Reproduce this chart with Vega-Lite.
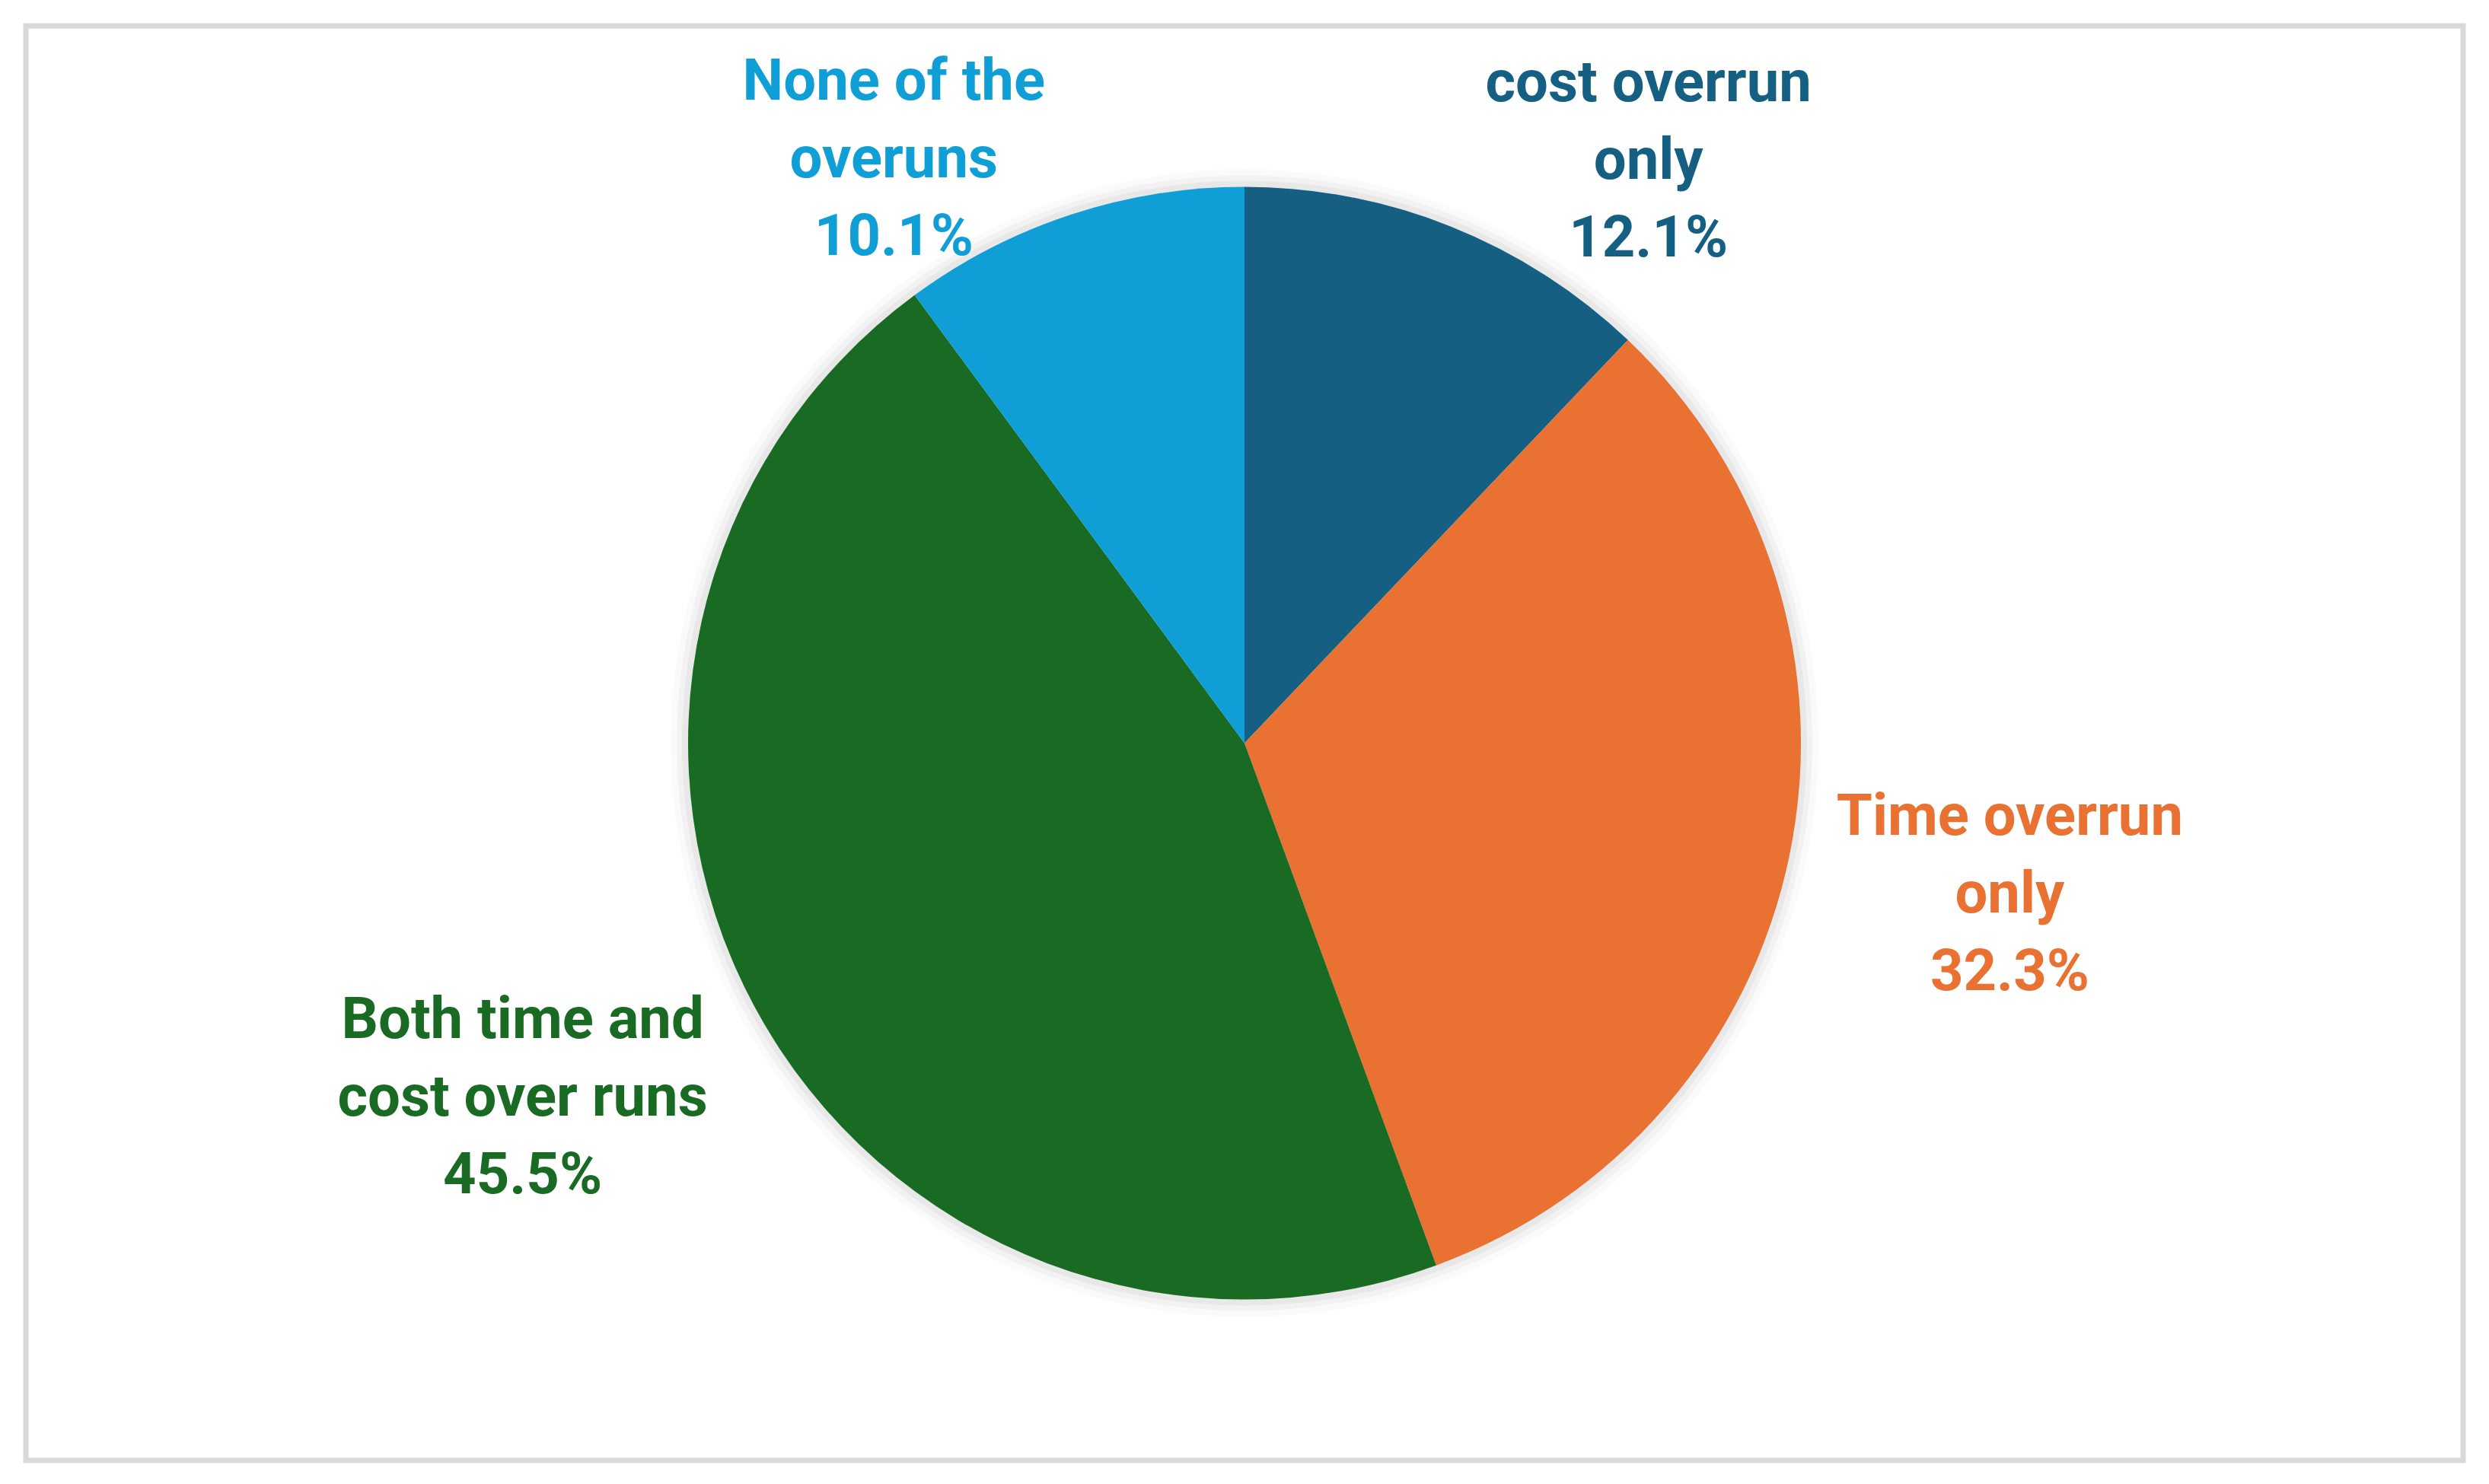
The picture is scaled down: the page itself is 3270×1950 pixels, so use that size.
{
  "$schema": "https://vega.github.io/schema/vega-lite/v6.json",
  "autosize": {"type": "fit", "contains": "padding"},
  "width": 3270,
  "height": 1950,
  "padding": {"left": 34, "right": 34, "top": 34, "bottom": 31},
  "background": "white",
  "view": {"stroke": "#d9d9d9", "strokeWidth": 7},
  "config": {"view": {"stroke": "#d9d9d9", "strokeWidth": 7}},
  "data": {
    "values": [
      {"idx": 1, "cat": "cost overrun only", "value": 12.1, "label": "cost overrun\nonly\n12.1%"},
      {"idx": 2, "cat": "Time overrun only", "value": 32.3, "label": "Time overrun\nonly\n32.3%"},
      {"idx": 3, "cat": "Both time and cost over runs", "value": 45.5, "label": "Both time and\ncost over runs\n45.5%"},
      {"idx": 4, "cat": "None of the overuns", "value": 10.1, "label": "None of the\noveruns\n10.1%"}
    ]
  },
  "layer": [
    {
      "mark": {"type": "arc", "radius": 754, "color": "#000000", "opacity": 0.02},
      "encoding": {
        "theta": {"field": "value", "type": "quantitative", "stack": true},
        "order": {"field": "idx", "type": "quantitative"}
      }
    },
    {
      "mark": {"type": "arc", "radius": 746, "color": "#000000", "opacity": 0.03},
      "encoding": {
        "theta": {"field": "value", "type": "quantitative", "stack": true},
        "order": {"field": "idx", "type": "quantitative"}
      }
    },
    {
      "mark": {"type": "arc", "radius": 739, "color": "#000000", "opacity": 0.04},
      "encoding": {
        "theta": {"field": "value", "type": "quantitative", "stack": true},
        "order": {"field": "idx", "type": "quantitative"}
      }
    },
    {
      "mark": {"type": "arc", "radius": 731},
      "encoding": {
        "theta": {"field": "value", "type": "quantitative", "stack": true},
        "order": {"field": "idx", "type": "quantitative"},
        "color": {
          "field": "cat",
          "type": "nominal",
          "scale": {
            "domain": ["cost overrun only", "Time overrun only", "Both time and cost over runs", "None of the overuns"],
            "range": ["#156082", "#E97132", "#196B24", "#0F9ED5"]
          },
          "legend": null
        }
      }
    },
    {
      "mark": {
        "type": "text",
        "font": "Roboto",
        "fontWeight": "bold",
        "fontSize": 76,
        "lineBreak": "\n",
        "lineHeight": 102,
        "align": "center",
        "baseline": "middle",
        "dy": -102
      },
      "encoding": {
        "theta": {
          "field": "value",
          "type": "quantitative",
          "stack": true,
          "scale": {
            "type": "linear",
            "zero": false,
            "nice": false,
            "domain": [0, 6.05, 28.25, 67.15, 94.95, 100],
            "range": [0, 0.6065, 1.7667, 4.2551, 5.7418, 6.2832]
          }
        },
        "radius": {
          "field": "value",
          "type": "quantitative",
          "scale": {"type": "linear", "zero": false, "nice": false, "domain": [10.1, 12.1, 32.3, 45.5], "range": [894, 931, 1025, 1057]}
        },
        "order": {"field": "idx", "type": "quantitative"},
        "color": {"field": "cat", "type": "nominal", "legend": null},
        "text": {"field": "label", "type": "nominal"}
      }
    }
  ],
  "resolve": {"scale": {"theta": "independent", "radius": "independent"}}
}
